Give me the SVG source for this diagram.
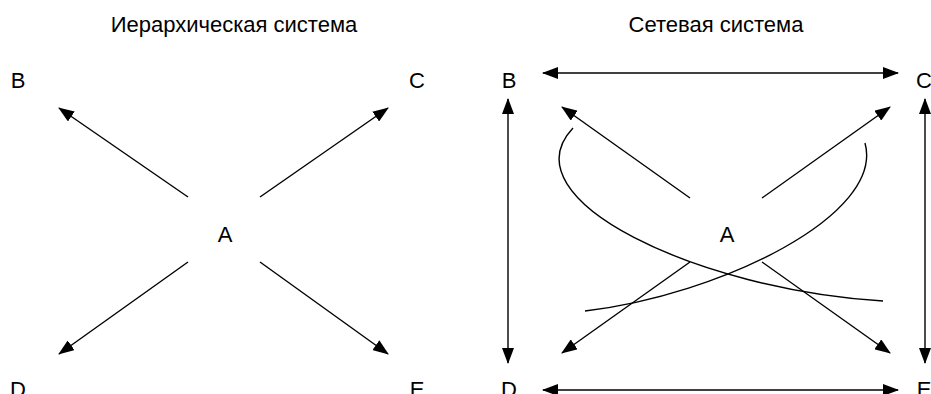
<svg xmlns="http://www.w3.org/2000/svg" width="931" height="394" viewBox="0 0 931 394">
<style>
  text { font-family: "Liberation Sans", Arial, sans-serif; fill: #000; }
  .title { font-size: 22px; text-anchor: middle; }
  .lbl { font-size: 22px; text-anchor: middle; }
  .edge { stroke: #000; stroke-width: 1.4; fill: none; }
  .arr { marker-end: url(#ah); }
  .dbl { marker-start: url(#ah); marker-end: url(#ah); }
</style>
<defs>
  <marker id="ah" viewBox="0 0 16 12" refX="15" refY="6" markerWidth="16" markerHeight="12" markerUnits="userSpaceOnUse" orient="auto-start-reverse">
    <path d="M0,0 L16,6 L0,12 z" fill="#000"/>
  </marker>
</defs>
<rect width="931" height="394" fill="#fff"/>

<text class="title" x="234" y="32">Иерархическая система</text>
<text class="title" x="716" y="32">Сетевая система</text>

<g id="h-B"><text class="lbl" x="18" y="88">B</text></g>
<g id="h-C"><text class="lbl" x="417" y="88">C</text></g>
<g id="h-A"><text class="lbl" x="225" y="242">A</text></g>
<g id="h-D"><text class="lbl" x="18" y="397">D</text></g>
<g id="h-E"><text class="lbl" x="417" y="397">E</text></g>

<g id="n-B"><text class="lbl" x="509" y="88">B</text></g>
<g id="n-C"><text class="lbl" x="924" y="88">C</text></g>
<g id="n-A"><text class="lbl" x="727" y="242">A</text></g>
<g id="n-D"><text class="lbl" x="509" y="397">D</text></g>
<g id="n-E"><text class="lbl" x="924" y="397">E</text></g>

<g id="connectors">
  <line class="edge arr" x1="188" y1="197" x2="59" y2="108"/>
  <line class="edge arr" x1="260" y1="197" x2="388" y2="108"/>
  <line class="edge arr" x1="188" y1="262" x2="59" y2="354"/>
  <line class="edge arr" x1="260" y1="262" x2="388" y2="354"/>

  <line class="edge arr" x1="690" y1="198" x2="562" y2="107"/>
  <line class="edge arr" x1="762" y1="198" x2="890" y2="107"/>
  <line class="edge arr" x1="690" y1="262" x2="562" y2="353"/>
  <line class="edge arr" x1="762" y1="262" x2="890" y2="353"/>

  <line class="edge dbl" x1="543" y1="73" x2="898" y2="73"/>
  <line class="edge dbl" x1="543" y1="390" x2="898" y2="390"/>
  <line class="edge dbl" x1="508" y1="99" x2="508" y2="363"/>
  <line class="edge dbl" x1="925" y1="99" x2="925" y2="363"/>

  <path class="edge" d="M573,128 C505,200 700,290 883,301"/>
  <path class="edge" d="M865,143 C885,215 720,295 585,311"/>
</g>
</svg>
